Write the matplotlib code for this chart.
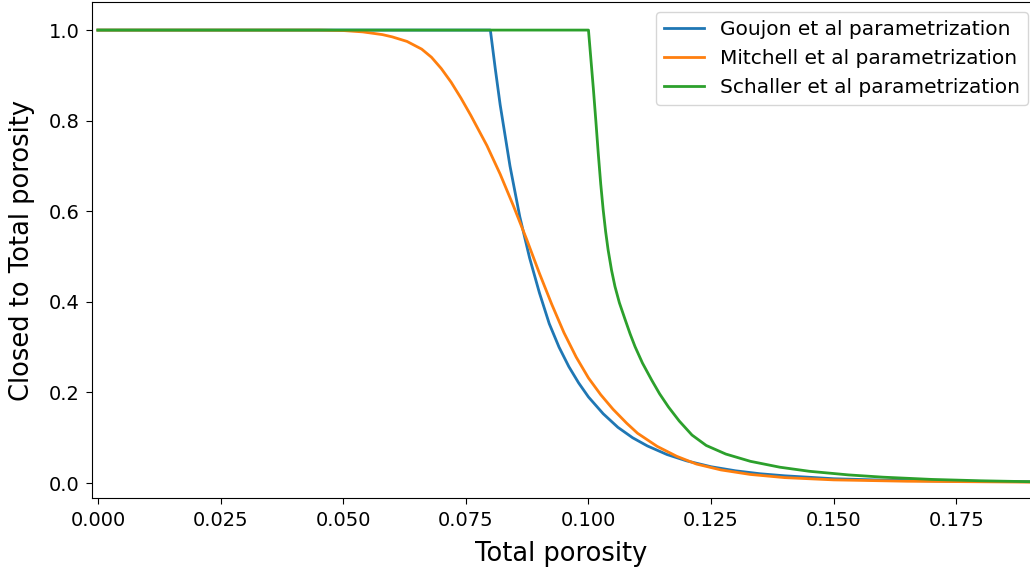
import matplotlib
matplotlib.use("Agg")
import matplotlib.pyplot as plt

# values
goujon_x = [0.000, 0.080, 0.081, 0.082, 0.084, 0.086, 0.088, 0.090, 0.092, 0.094,
            0.096, 0.098, 0.100, 0.103, 0.106, 0.109, 0.112, 0.116, 0.120, 0.125,
            0.130, 0.135, 0.140, 0.150, 0.160, 0.175, 0.190]
goujon_y = [1.000, 1.000, 0.915, 0.835, 0.700, 0.588, 0.497, 0.420, 0.352, 0.300,
            0.257, 0.221, 0.190, 0.153, 0.123, 0.100, 0.082, 0.063, 0.049, 0.036,
            0.027, 0.0205, 0.016, 0.0095, 0.0065, 0.004, 0.003]

mitchell_x = [0.000, 0.045, 0.050, 0.054, 0.058, 0.060, 0.063, 0.066, 0.068, 0.070,
              0.072, 0.074, 0.076, 0.0793, 0.082, 0.0847, 0.0874, 0.090, 0.0925, 0.095,
              0.0975, 0.100, 0.1025, 0.105, 0.1078, 0.110, 0.114, 0.118, 0.122, 0.127,
              0.133, 0.140, 0.150, 0.165, 0.190]
mitchell_y = [1.000, 1.000, 0.999, 0.996, 0.990, 0.985, 0.975, 0.958, 0.940, 0.915,
              0.885, 0.850, 0.812, 0.745, 0.682, 0.612, 0.538, 0.463, 0.395, 0.332,
              0.278, 0.232, 0.195, 0.163, 0.132, 0.110, 0.081, 0.059, 0.042, 0.029,
              0.019, 0.012, 0.007, 0.004, 0.002]

schaller_x = [0.000, 0.1000, 0.1005, 0.1010, 0.1015, 0.1020, 0.1025, 0.1030, 0.1035, 0.1040,
              0.1047, 0.1054, 0.1063, 0.1075, 0.1085, 0.1095, 0.1110, 0.1129, 0.1145, 0.1163,
              0.1185, 0.1211, 0.1240, 0.1280, 0.1330, 0.1390, 0.1450, 0.1530, 0.1600, 0.1700,
              0.1800, 0.1900]
schaller_y = [1.000, 1.000, 0.935, 0.870, 0.800, 0.727, 0.660, 0.603, 0.555, 0.515,
              0.470, 0.434, 0.398, 0.360, 0.329, 0.301, 0.265, 0.227, 0.197, 0.168,
              0.137, 0.106, 0.083, 0.064, 0.048, 0.035, 0.026, 0.018, 0.013, 0.008,
              0.005, 0.003]

fig = plt.figure(figsize=(10.30, 5.74), dpi=100)
ax = fig.add_axes([92 / 1030, 1 - 498 / 574, 1 - 92 / 1030, 496 / 574])

ax.plot(goujon_x, goujon_y, label='Goujon et al parametrization', linewidth=2)
ax.plot(mitchell_x, mitchell_y, label='Mitchell et al parametrization', linewidth=2)
ax.plot(schaller_x, schaller_y, label='Schaller et al parametrization', linewidth=2)

ax.set_xlim(-0.0012, 0.190)
ax.set_ylim(-0.033, 1.062)
ax.set_xticks([0.000, 0.025, 0.050, 0.075, 0.100, 0.125, 0.150, 0.175])
ax.set_xticklabels(['0.000', '0.025', '0.050', '0.075', '0.100', '0.125', '0.150', '0.175'])
ax.set_yticks([0.0, 0.2, 0.4, 0.6, 0.8, 1.0])
ax.tick_params(labelsize=14, length=4.5, pad=4.5)
ax.spines['right'].set_visible(False)

ax.set_xlabel('Total porosity', fontsize=18.5, labelpad=8)
ax.set_ylabel('Closed to Total porosity', fontsize=18.5, labelpad=10)

ax.legend(loc='upper right', fontsize=14.5, bbox_to_anchor=(1028 / 1030, 1 - 12 / 574),
          bbox_transform=fig.transFigure, borderaxespad=0)

fig.savefig('out.png', dpi=100)
